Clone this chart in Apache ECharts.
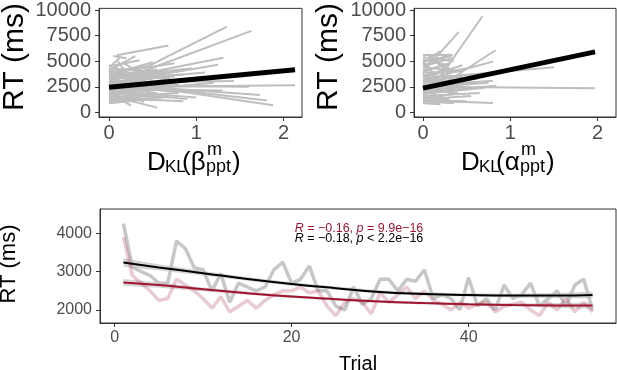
<!DOCTYPE html>
<html>
<head>
<meta charset="utf-8">
<script src="https://cdn.jsdelivr.net/npm/echarts@6/dist/echarts.min.js"></script>
<style>
html, body { margin: 0; padding: 0; background: #fff; }
#chart { width: 617px; height: 370px; }
</style>
</head>
<body>
<div id="chart"></div>
<script>
// per-participant regression lines, [x0, y0, x1, y1]
var betaLines = [
  [0.09, 5590, 0.68, 6540], [0.40, 4300, 1.35, 8380], [0.35, 3900, 1.63, 7960],
  [0.42, 3850, 1.31, 5340], [0.38, 3400, 1.25, 4650], [0.30, 3300, 1.10, 3900],
  [0.00, 2480, 2.13, 2650], [0.00, 2750, 1.73, 1700], [0.00, 2950, 1.81, 1170],
  [0.00, 3080, 1.88, 700], [0.00, 1650, 0.55, 470], [0.00, 2900, 1.43, 3070],
  [0.00, 2300, 1.30, 2150], [0.00, 2100, 1.00, 1450], [0.00, 3300, 0.85, 3700],
  [0.00, 3500, 0.95, 4300], [0.00, 3800, 0.75, 4800], [0.02, 2000, 1.20, 2900],
  [0.00, 2600, 1.60, 2500], [0.00, 4500, 0.35, 5100], [0.05, 4300, 0.30, 5500],
  [0.10, 5000, 0.20, 3800], [0.00, 4000, 0.45, 4500], [0.00, 3600, 0.55, 4200],
  [0.00, 4200, 0.25, 3000], [0.00, 3200, 0.60, 3900], [0.00, 3000, 0.40, 2000],
  [0.00, 2800, 0.30, 1500], [0.00, 2500, 0.65, 3200], [0.00, 2200, 0.50, 2800],
  [0.00, 1900, 0.70, 2400], [0.00, 1700, 0.45, 2200], [0.00, 1500, 0.80, 1900],
  [0.00, 1300, 0.60, 1700], [0.00, 1100, 0.50, 1300], [0.00, 900, 0.35, 1200],
  [0.00, 1800, 0.25, 700], [0.05, 2400, 0.40, 1000], [0.00, 3400, 0.20, 2100],
  [0.00, 4100, 0.15, 2500], [0.10, 1500, 0.50, 1200], [0.00, 2600, 0.80, 2000],
  [0.00, 3100, 0.70, 2500], [0.00, 2000, 0.90, 1300], [0.00, 4400, 0.12, 5300],
  [0.15, 4900, 0.45, 3400], [0.00, 3700, 0.35, 3300], [0.20, 3500, 0.80, 4000],
  [0.00, 1000, 0.30, 2000], [0.00, 1400, 0.85, 1100], [0.00, 2350, 1.05, 2050],
  [0.05, 5500, 0.20, 5300], [0.00, 3900, 0.60, 3500], [0.00, 2700, 0.50, 3300],
  [0.00, 3300, 0.45, 2600], [0.00, 2100, 0.35, 2600], [0.00, 1600, 0.30, 1100],
  [0.00, 3000, 0.75, 3500], [0.00, 2400, 0.55, 1900], [0.00, 4600, 0.30, 3600],
  [0.05, 3800, 0.50, 4900], [0.00, 1200, 0.70, 1500], [0.00, 2900, 0.20, 4200],
  [0.10, 4000, 0.40, 2800], [0.00, 1800, 0.55, 2600], [0.00, 2000, 0.65, 1600],
  [0.00, 3500, 0.40, 3100], [0.00, 2300, 0.80, 2700], [0.00, 3200, 0.30, 3900],
  [0.00, 1500, 0.40, 2300], [0.00, 4300, 0.50, 4000], [0.05, 2600, 0.70, 2200],
  [0.00, 1100, 0.25, 1600], [0.00, 3600, 0.70, 3300], [0.15, 2000, 0.60, 1400]
];
var alphaLines = [
  [0.00, 2500, 1.97, 2370], [0.19, 3380, 0.68, 9390], [0.04, 4330, 0.41, 7870],
  [0.23, 2750, 0.83, 6070], [0.11, 3380, 0.80, 4960], [0.11, 3380, 1.50, 4420],
  [0.00, 1170, 0.80, 920], [0.00, 2000, 0.84, 2600], [0.00, 2600, 0.80, 3100],
  [0.00, 5600, 0.34, 5600], [0.00, 5000, 0.33, 5500], [0.05, 5700, 0.25, 4200],
  [0.00, 4500, 0.34, 5300], [0.00, 4000, 0.30, 4800], [0.00, 3600, 0.50, 4300],
  [0.00, 3300, 0.57, 3700], [0.00, 3000, 0.45, 3500], [0.00, 2200, 0.60, 3000],
  [0.00, 1800, 0.70, 2400], [0.00, 1500, 0.42, 1000], [0.00, 1300, 0.55, 1600],
  [0.00, 1000, 0.30, 1400], [0.00, 2800, 0.35, 1800], [0.00, 3200, 0.25, 2000],
  [0.00, 4200, 0.20, 3000], [0.00, 1900, 0.50, 2300], [0.00, 2400, 0.75, 2900],
  [0.00, 1600, 0.65, 1900], [0.00, 900, 0.20, 800], [0.10, 5200, 0.30, 4200],
  [0.00, 3800, 0.15, 5800], [0.00, 2700, 0.40, 2200], [0.00, 2100, 0.30, 1300],
  [0.05, 3500, 0.45, 4600], [0.00, 4800, 0.20, 6000], [0.00, 1200, 0.50, 1100],
  [0.00, 2900, 0.62, 3300], [0.00, 4600, 0.30, 5500], [0.00, 5200, 0.28, 4600],
  [0.00, 3400, 0.30, 4400], [0.00, 2500, 0.25, 3300], [0.00, 2000, 0.33, 2600],
  [0.00, 3700, 0.20, 2600], [0.00, 4900, 0.15, 3600], [0.00, 1400, 0.35, 1800],
  [0.00, 1700, 0.28, 1200], [0.00, 2300, 0.40, 1900], [0.00, 3100, 0.32, 3600],
  [0.00, 4400, 0.35, 4100], [0.00, 5400, 0.35, 5000], [0.00, 2600, 0.55, 2400],
  [0.00, 3900, 0.45, 4000], [0.00, 1100, 0.35, 900], [0.00, 2900, 0.18, 3900],
  [0.05, 4700, 0.30, 5700]
];
// group-level fits
var betaFit = [[0, 2450], [2.13, 4170]];
var alphaFit = [[0, 2370], [1.97, 5910]];

// RT over trials
var trials = [1, 2, 3, 4, 5, 6, 7, 8, 9, 10, 11, 12, 13, 14, 15, 16, 17, 18, 19, 20,
  21, 22, 23, 24, 25, 26, 27, 28, 29, 30, 31, 32, 33, 34, 35, 36, 37, 38, 39, 40,
  41, 42, 43, 44, 45, 46, 47, 48, 49, 50, 51, 52, 53, 54];
var rtGrey = [4250, 3120, 3000, 2900, 2700, 2700, 3800, 3600, 3100, 3050, 2500, 2950, 2200, 2700,
  2600, 2500, 2600, 3050, 3250, 2700, 2800, 3150, 2500, 2500, 2100, 2000, 2600, 2150, 2300, 2800,
  2800, 2500, 2800, 2750, 3050, 2300, 2400, 2300, 2000, 2850, 2100, 2300, 2000, 2650, 2300, 2400,
  2700, 2100, 2300, 2500, 2100, 2650, 2800, 2000];
var rtRed = [3900, 2900, 2700, 2500, 2250, 2300, 2800, 2650, 2500, 2300, 2050, 2350, 1950, 2100,
  2250, 2050, 2250, 2400, 2500, 2500, 2600, 2450, 2500, 2100, 1850, 2200, 2300, 2200, 1900, 2450,
  2200, 2400, 2600, 2300, 2500, 2250, 2150, 2000, 2200, 2050, 2150, 2200, 1950, 2100, 2150, 2200,
  2000, 1850, 2200, 2000, 2300, 1950, 2200, 1950];

var fitTrials = [1, 5, 10, 15, 20, 25, 30, 35, 40, 45, 50, 54];
var fitGrey = [3240, 3110, 2960, 2810, 2680, 2570, 2470, 2420, 2390, 2375, 2375, 2390];
var fitGreyLow = [3130, 3030, 2900, 2760, 2635, 2525, 2425, 2375, 2345, 2325, 2305, 2300];
var fitGreyHigh = [3350, 3190, 3020, 2860, 2725, 2615, 2515, 2465, 2435, 2425, 2445, 2480];
var fitRed = [2720, 2650, 2540, 2440, 2350, 2280, 2220, 2180, 2150, 2130, 2120, 2115];
var fitRedLow = [2630, 2580, 2490, 2400, 2315, 2245, 2185, 2145, 2115, 2090, 2060, 2035];
var fitRedHigh = [2810, 2720, 2590, 2480, 2385, 2315, 2255, 2215, 2185, 2170, 2180, 2195];

var topTicksX = [0, 1, 2];
var topTicksY = [0, 2500, 5000, 7500, 10000];
var bottomTicksX = [0, 20, 40];
var bottomTicksY = [2000, 3000, 4000];

var FONT = 'Liberation Sans';
var RED = '#a0142f';

var chart = echarts.init(document.getElementById('chart'));

function axis(grid, min, max, ticks, size, margin) {
  return {
    type: 'value', gridIndex: grid, min: min, max: max,
    axisLine: { show: true, onZero: false, lineStyle: { color: '#333', width: 1 } },
    axisTick: { show: true, length: 4, customValues: ticks, lineStyle: { color: '#333', width: 1 } },
    axisLabel: {
      customValues: ticks, fontSize: size, fontFamily: FONT, color: '#4d4d4d', margin: margin,
      formatter: function (v) { return String(v); }
    },
    splitLine: { show: false }
  };
}

function zip(xs, ys) {
  return xs.map(function (x, i) { return [x, ys[i]]; });
}

function segs(list) {
  return list.map(function (s) { return { coords: [[s[0], s[1]], [s[2], s[3]]] }; });
}

function band(low, high) {
  return {
    type: 'custom', xAxisIndex: 2, yAxisIndex: 2, silent: true, clip: true,
    data: [[fitTrials[0], low[0]]],
    renderItem: function (params, api) {
      var pts = [];
      for (var i = 0; i < fitTrials.length; i++) pts.push(api.coord([fitTrials[i], high[i]]));
      for (var j = fitTrials.length - 1; j >= 0; j--) pts.push(api.coord([fitTrials[j], low[j]]));
      return { type: 'polygon', shape: { points: pts }, style: { fill: 'rgba(153,153,153,0.4)' } };
    }
  };
}

function txt(x, y, s, size, extra) {
  var st = { text: s, fontSize: size, fontFamily: FONT, fill: '#000',
    align: 'left', textAlign: 'left', verticalAlign: 'middle', textVerticalAlign: 'middle' };
  for (var k in (extra || {})) st[k] = extra[k];
  return { type: 'text', x: x, y: y, silent: true, style: st };
}

// D_KL(greek^m_ppt) title, x0 = left of the D
function dklTitle(x0, greek) {
  return [
    txt(x0, 162.5, 'D', 26),
    txt(x0 + 18, 167.5, 'KL', 17),
    txt(x0 + 35, 162.5, '(' + greek, 26),
    txt(x0 + 60, 150.5, 'm', 18),
    txt(x0 + 59, 167.5, 'ppt', 18),
    txt(x0 + 85, 162.5, ')', 26)
  ];
}

function yTitle(x, y, size) {
  var t = txt(x, y, 'RT (ms)', size, { align: 'center', textAlign: 'center' });
  t.rotation = Math.PI / 2;
  return t;
}

var richI = { fontStyle: 'italic', fontSize: 12.5, fontFamily: FONT };

var option = {
  backgroundColor: '#fff',
  animation: false,
  grid: [
    { left: 99, top: 5, width: 203, height: 112, show: true, borderColor: '#333', borderWidth: 1 },
    { left: 414, top: 5, width: 202, height: 112, show: true, borderColor: '#333', borderWidth: 1 },
    { left: 100, top: 209, width: 516, height: 114, show: true, borderColor: '#333', borderWidth: 1 }
  ],
  xAxis: [
    axis(0, -0.115, 2.21, topTicksX, 20, 6),
    axis(1, -0.103, 2.21, topTicksX, 20, 6),
    axis(2, -1.65, 56.65, bottomTicksX, 16, 7)
  ],
  yAxis: [
    axis(0, -445, 10160, topTicksY, 20, 8),
    axis(1, -445, 10160, topTicksY, 20, 8),
    axis(2, 1661, 4634, bottomTicksY, 16, 8)
  ],
  series: [
    {
      type: 'lines', coordinateSystem: 'cartesian2d', xAxisIndex: 0, yAxisIndex: 0, silent: true,
      lineStyle: { color: '#bebebe', width: 2, opacity: 1 }, data: segs(betaLines)
    },
    {
      type: 'line', xAxisIndex: 0, yAxisIndex: 0, symbol: 'none', silent: true,
      lineStyle: { color: '#000', width: 5 }, data: betaFit
    },
    {
      type: 'lines', coordinateSystem: 'cartesian2d', xAxisIndex: 1, yAxisIndex: 1, silent: true,
      lineStyle: { color: '#bebebe', width: 2, opacity: 1 }, data: segs(alphaLines)
    },
    {
      type: 'line', xAxisIndex: 1, yAxisIndex: 1, symbol: 'none', silent: true,
      lineStyle: { color: '#000', width: 5 }, data: alphaFit
    },
    {
      type: 'line', xAxisIndex: 2, yAxisIndex: 2, symbol: 'none', silent: true,
      lineStyle: { color: '#bdbdbd', width: 3.5, opacity: 0.85 }, data: zip(trials, rtGrey)
    },
    {
      type: 'line', xAxisIndex: 2, yAxisIndex: 2, symbol: 'none', silent: true,
      lineStyle: { color: RED, width: 3.5, opacity: 0.22 }, data: zip(trials, rtRed)
    },
    band(fitGreyLow, fitGreyHigh),
    band(fitRedLow, fitRedHigh),
    {
      type: 'line', xAxisIndex: 2, yAxisIndex: 2, symbol: 'none', smooth: true, silent: true,
      lineStyle: { color: '#000', width: 2 }, data: zip(fitTrials, fitGrey)
    },
    {
      type: 'line', xAxisIndex: 2, yAxisIndex: 2, symbol: 'none', smooth: true, silent: true,
      lineStyle: { color: RED, width: 2 }, data: zip(fitTrials, fitRed)
    }
  ],
  graphic: [].concat(
    dklTitle(147, '\u03b2'),
    dklTitle(461, '\u03b1'),
    [
      yTitle(15, 57, 30),
      yTitle(329, 57, 30),
      yTitle(9, 264, 22),
      txt(358, 364, 'Trial', 20, { align: 'center', textAlign: 'center' }),
      txt(359, 228.5, '{i|R} = \u22120.16, {i|p} = 9.9e\u221216', 12.5,
        { align: 'center', textAlign: 'center', fill: RED, rich: { i: richI } }),
      txt(359, 238.5, '{i|R} = \u22120.18, {i|p} < 2.2e\u221216', 12.5,
        { align: 'center', textAlign: 'center', fill: '#000', rich: { i: richI } })
    ]
  )
};

chart.setOption(option);
</script>
</body>
</html>
